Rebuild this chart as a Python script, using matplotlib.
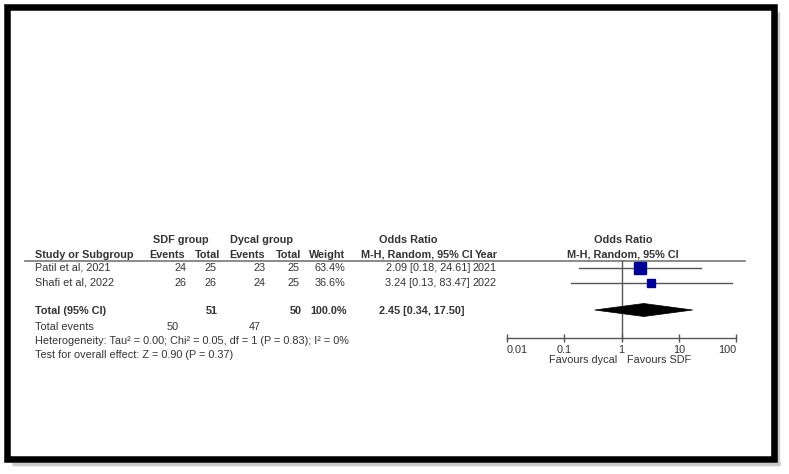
import matplotlib
matplotlib.use("Agg")
import matplotlib.pyplot as plt
from matplotlib.patches import Polygon, Rectangle
import numpy as np

# ---------------- data ----------------
studies = ["Patil et al, 2021", "Shafi et al, 2022"]
sdf_events = [24, 26]
sdf_total = [25, 26]
dycal_events = [23, 24]
dycal_total = [25, 25]
weights = [63.4, 36.6]
or_est = [2.09, 3.24]
or_lo = [0.18, 0.13]
or_hi = [24.61, 83.47]
years = [2021, 2022]

total_sdf_n = 51
total_dycal_n = 50
total_sdf_events = 50
total_dycal_events = 47
total_weight = 100.0
total_or = 2.45
total_lo = 0.34
total_hi = 17.50

heterogeneity = "Heterogeneity: Tau\u00b2 = 0.00; Chi\u00b2 = 0.05, df = 1 (P = 0.83); I\u00b2 = 0%"
overall = "Test for overall effect: Z = 0.90 (P = 0.37)"
xticks = [0.01, 0.1, 1, 10, 100]
xticklabels = ["0.01", "0.1", "1", "10", "100"]
favours_left = "Favours dycal"
favours_right = "Favours SDF"

# ---------------- layout ----------------
W, H = 789, 474
FS = 7.8
TXT = "#333333"
plt.rcParams['font.family'] = ['Liberation Sans', 'DejaVu Sans']

fig = plt.figure(figsize=(W / 100, H / 100), dpi=100)
fig.patch.set_facecolor("white")
ax = fig.add_axes([0, 0, 1, 1])
ax.set_xlim(0, W)
ax.set_ylim(H, 0)
ax.axis("off")

# frame with a soft shadow on the right and bottom
ax.plot([778.5, 778.5], [12, 465], color="#c8c8c8", lw=2.5, solid_capstyle="butt", zorder=1)
ax.plot([12, 780], [463.5, 463.5], color="#c8c8c8", lw=2.5, solid_capstyle="butt", zorder=1)
ax.add_patch(Rectangle((7.5, 7), 766.5, 452, fill=False, lw=4.7, ec="black",
                       joinstyle="miter", zorder=2))

row_y = [268, 282.5]
y_total = 311.5
y_events = 326.5
y_het = 341
y_test = 355
y_h1 = 239.5
y_h2 = 254.5

def t(x, y, s, ha="left", bold=False, **kw):
    ax.text(x, y, s, ha=ha, va="center", fontsize=FS, color=TXT,
            fontweight="bold" if bold else "normal", **kw)

# headers
t(181, y_h1, "SDF group", ha="center", bold=True)
t(262, y_h1, "Dycal group", ha="center", bold=True)
t(408, y_h1, "Odds Ratio", ha="center", bold=True)
t(623, y_h1, "Odds Ratio", ha="center", bold=True)
t(35, y_h2, "Study or Subgroup", bold=True)
t(185, y_h2, "Events", ha="right", bold=True)
t(220, y_h2, "Total", ha="right", bold=True)
t(265, y_h2, "Events", ha="right", bold=True)
t(301, y_h2, "Total", ha="right", bold=True)
t(345, y_h2, "Weight", ha="right", bold=True)
t(473, y_h2, "M-H, Random, 95% CI", ha="right", bold=True)
t(498, y_h2, "Year", ha="right", bold=True)
t(623, y_h2, "M-H, Random, 95% CI", ha="center", bold=True)

ax.plot([25, 745], [260.5, 260.5], color="#777777", lw=1.2, zorder=3)

# study rows
for i, name in enumerate(studies):
    y = row_y[i]
    t(35, y, name)
    t(187, y, str(sdf_events[i]), ha="right")
    t(217, y, str(sdf_total[i]), ha="right")
    t(265.5, y, str(dycal_events[i]), ha="right")
    t(300, y, str(dycal_total[i]), ha="right")
    t(345, y, f"{weights[i]:.1f}%", ha="right")
    t(470, y, f"{or_est[i]:.2f} [{or_lo[i]:.2f}, {or_hi[i]:.2f}]", ha="right")
    t(497, y, str(years[i]), ha="right")

# totals
t(35, y_total, "Total (95% CI)", bold=True)
t(218, y_total, str(total_sdf_n), ha="right", bold=True)
t(302, y_total, str(total_dycal_n), ha="right", bold=True)
t(347, y_total, f"{total_weight:.1f}%", ha="right", bold=True)
t(465, y_total, f"{total_or:.2f} [{total_lo:.2f}, {total_hi:.2f}]", ha="right", bold=True)
t(35, y_events, "Total events")
t(179, y_events, str(total_sdf_events), ha="right")
t(261, y_events, str(total_dycal_events), ha="right")
t(35, y_het, heterogeneity)
t(35, y_test, overall)

t(617, 360, favours_left, ha="right")
t(627, 360, favours_right, ha="left")

# ---------------- forest axes ----------------
x0, x1 = 507, 736
ytop, ybot = 260.5, 338
axf = fig.add_axes([x0 / W, 1 - ybot / H, (x1 - x0) / W, (ybot - ytop) / H])
axf.set_facecolor("none")
axf.set_xscale("log")
axf.set_xlim(xticks[0], xticks[-1])
axf.set_ylim(ybot, ytop)
for s in ["top", "left", "right"]:
    axf.spines[s].set_visible(False)
axf.spines["bottom"].set_color("#555555")
axf.spines["bottom"].set_linewidth(1.0)
axf.set_yticks([])
axf.set_xticks(xticks)
axf.set_xticklabels(xticklabels)
axf.minorticks_off()
axf.tick_params(axis="x", direction="inout", length=6, width=1, color="#555555",
                labelsize=FS, labelcolor=TXT, pad=2)
labels = axf.get_xticklabels()
labels[0].set_horizontalalignment("left")
labels[-1].set_horizontalalignment("right")
axf.axvline(1, color="#555555", lw=1.0, clip_on=False)

for i in range(len(studies)):
    y = row_y[i]
    axf.plot([or_lo[i], or_hi[i]], [y, y], color="#555555", lw=1.0, clip_on=False, zorder=3)
    axf.plot([or_est[i]], [y], marker="s", ms=np.sqrt(weights[i]) * 1.05,
             color="#000099", mec="#000099", clip_on=False, zorder=4)

yd = 310
dia = Polygon([[total_lo, yd], [total_or, yd - 6.5],
               [total_hi, yd], [total_or, yd + 6.5]],
              closed=True, fc="black", ec="black", lw=0.5, zorder=4, clip_on=False)
axf.add_patch(dia)

fig.savefig("out.png", dpi=100, facecolor="white")
